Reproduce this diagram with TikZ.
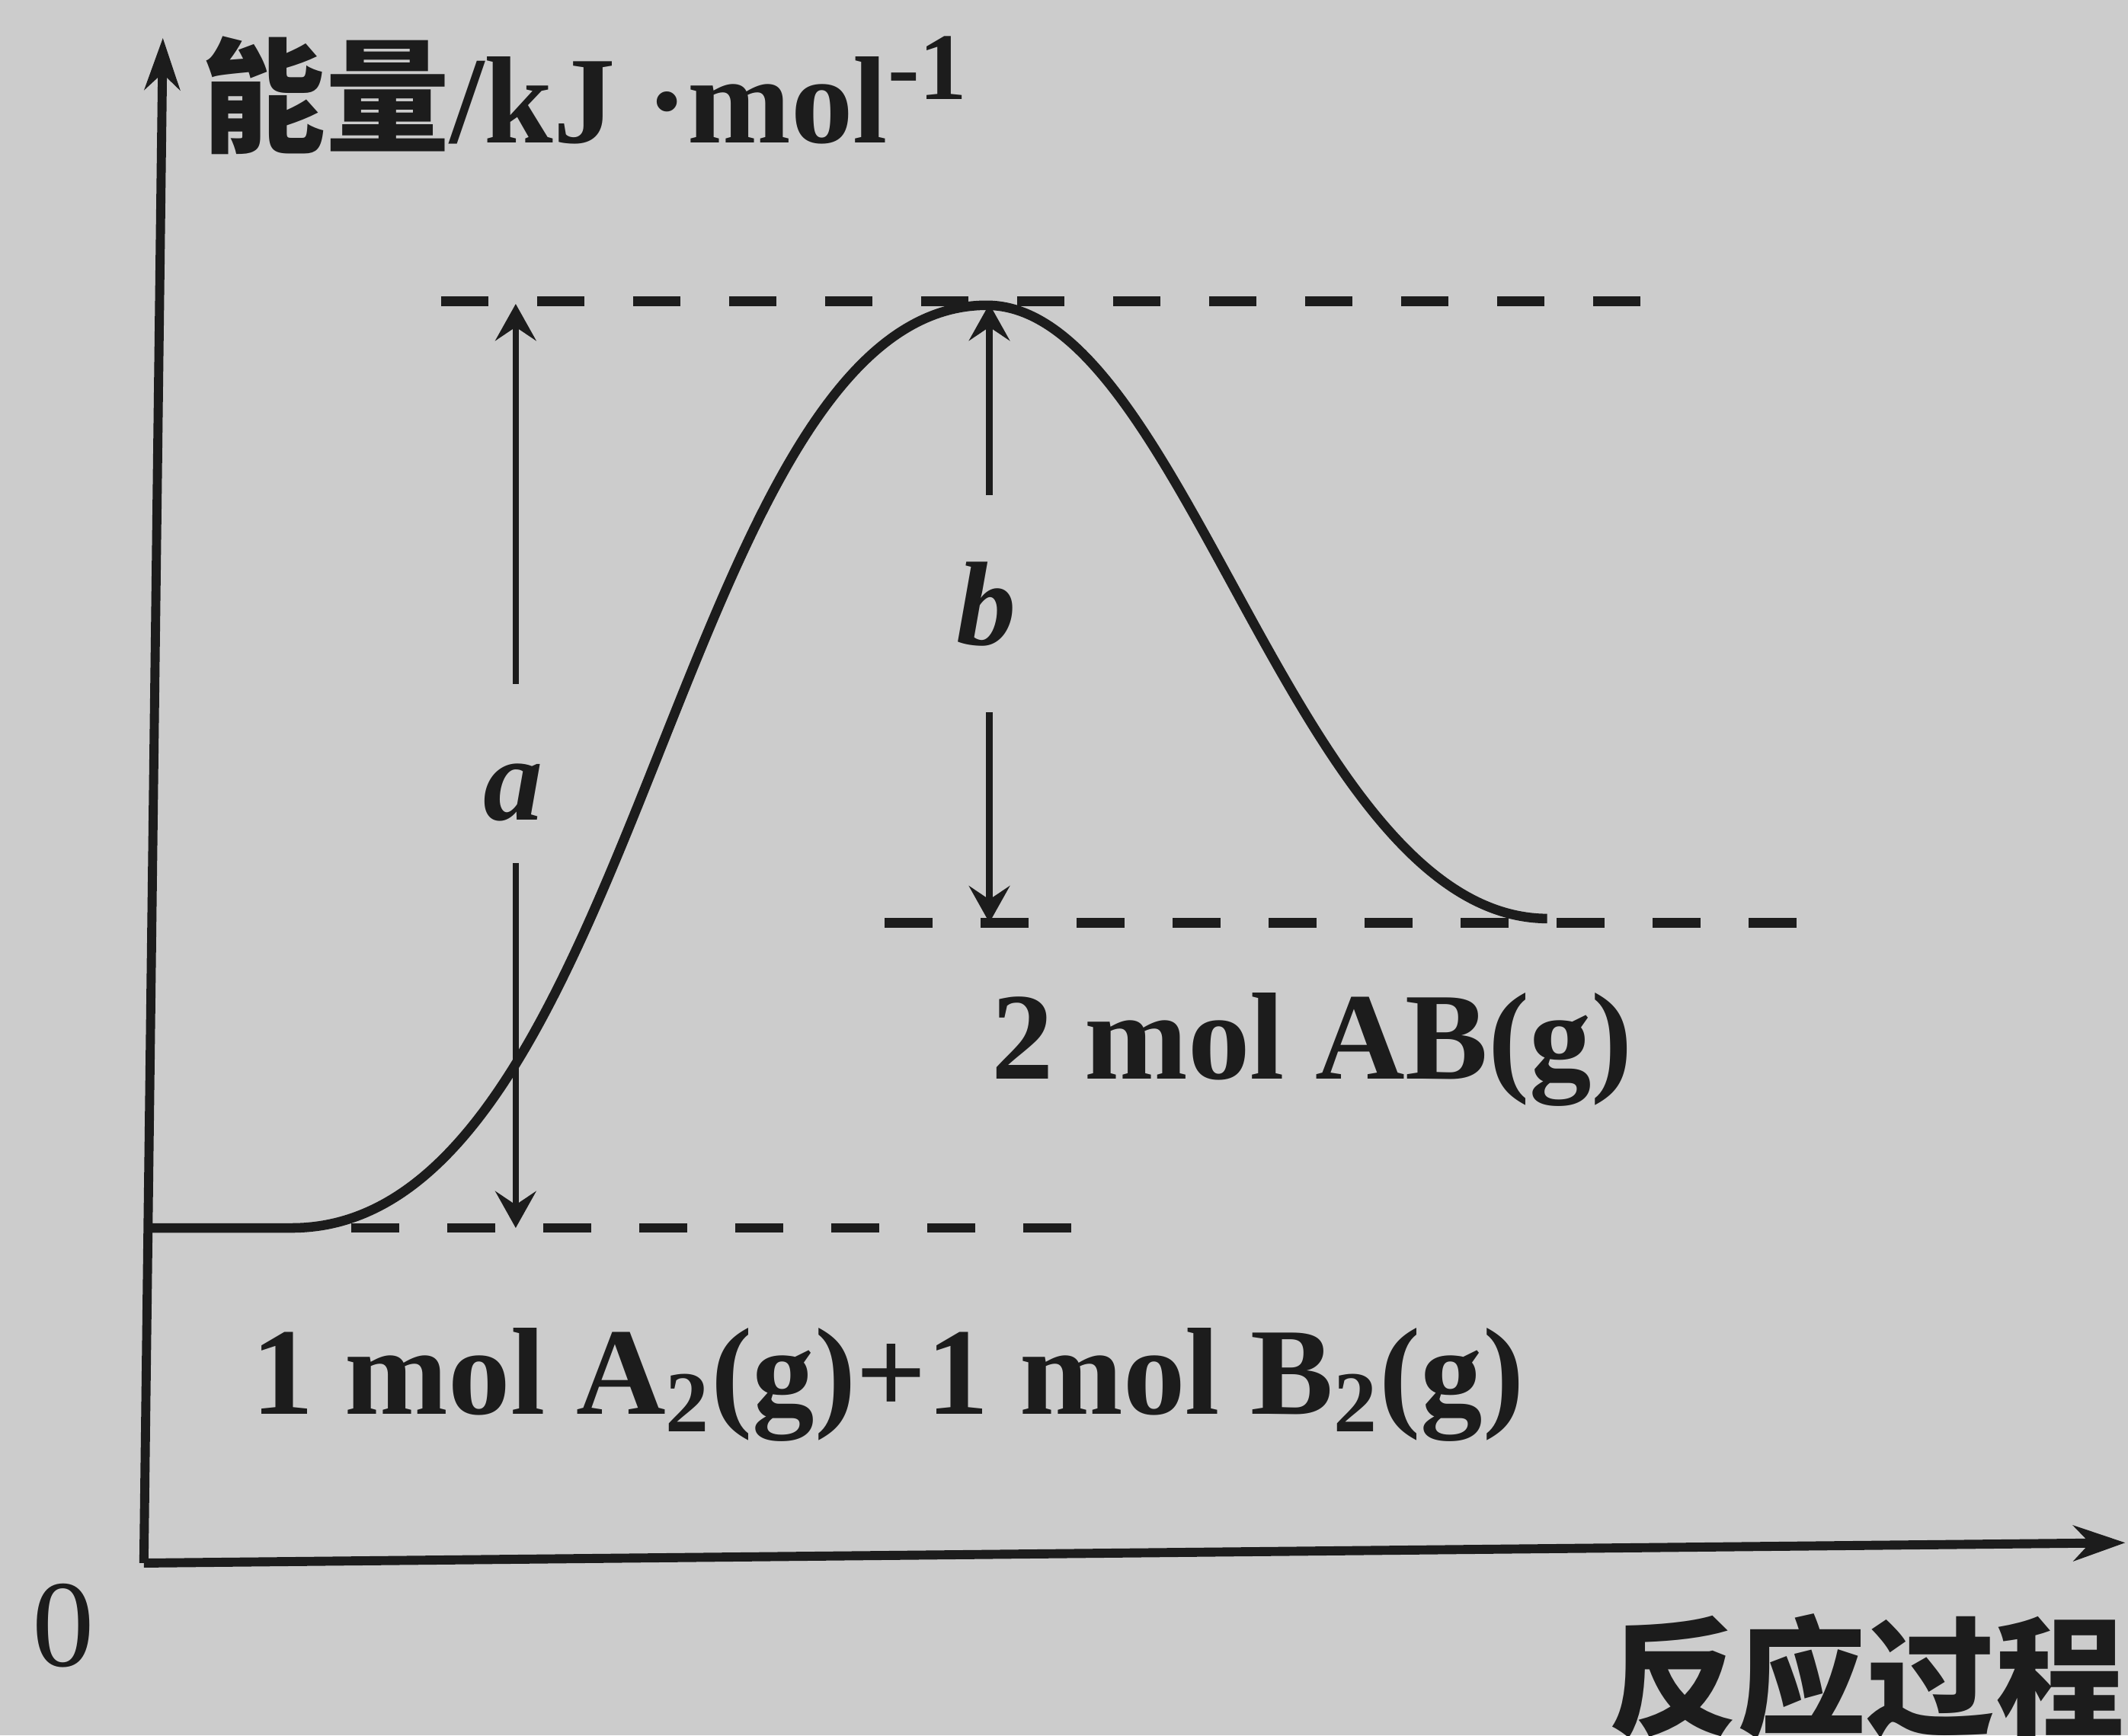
\documentclass[tikz,border=0pt]{standalone}
\usepackage{fontspec}
\setmainfont{Liberation Serif}
\newfontfamily\cjk{Noto Sans CJK SC}
\usetikzlibrary{arrows.meta,positioning,calc}
\definecolor{chem@ink}{RGB}{28,28,28}
\definecolor{chem@paper}{RGB}{204,204,204}
\tikzset{
  chem/.style={
    x=0.01cm, y=-0.01cm,
    every node/.style={text=chem@ink, inner sep=0pt}
  },
  axis/.style={draw=chem@ink, line width=1.9pt,
    -{Stealth[length=0.38cm,width=0.26cm,inset=0.12cm]}},
  profile/.style={draw=chem@ink, line width=2pt, line join=round},
  level/.style={draw=chem@ink, line width=2pt, dash pattern=on 0.35cm off 0.357cm},
  gaparrow/.style={draw=chem@ink, line width=1.3pt,
    -{Stealth[length=0.27cm,width=0.3cm,inset=0.1cm]}},
  species/.style={font=\fontsize{26}{30}\selectfont\bfseries},
  gaplabel/.style={font=\fontsize{25}{28}\selectfont\bfseries\itshape},
  axislabel/.style={font=\fontsize{26}{30}\selectfont\bfseries}
}

\begin{document}
\begin{tikzpicture}[chem]
\path[use as bounding box, fill=chem@paper] (0,0) rectangle (1568,1279);

% axes
\coordinate (O)    at (106,1152);
\coordinate (yTip) at (120,28);
\coordinate (xTip) at (1566,1137);
\draw[axis] (O) -- (yTip);
\draw[axis] (O) -- (xTip);
\node[font=\fontsize{26}{30}\selectfont] (zero) at (47,1198) {0};
\node[axislabel, anchor=base west] (ylab) at (148,105)
  {{\cjk 能量}/kJ ·mol\textsuperscript{\fontsize{20}{20}\selectfont -1}};
\node[anchor=base east, font=\cjk\fontsize{27}{30}\selectfont\bfseries] (xlab) at (1566,1272) {反应过程};

% energy levels
\coordinate (peakL) at (325,222);
\coordinate (peakR) at (1212,222);
\coordinate (prodL) at (652,680);
\coordinate (prodR) at (1330,680);
\coordinate (reacL) at (259,905);
\coordinate (reacR) at (800,905);
\draw[level] (peakL) -- (peakR);
\draw[level] (prodL) -- (prodR);
\draw[level] (reacL) -- (reacR);

% reaction profile
\draw[profile] (107,905) -- (215,905)
  .. controls (470,905) and (500,225) .. (727,225)
  .. controls (873,225) and (955,676) .. (1140,677);

% activation energies
\coordinate (aTop) at (380,224);
\coordinate (aBot) at (380,905);
\node[gaplabel] (lbla) at (378,584) {a};
\draw[gaparrow] ($(lbla)+(2,-80)$) -- (aTop);
\draw[gaparrow] ($(lbla)+(2,52)$) -- (aBot);

\coordinate (bTop) at (729,224);
\coordinate (bBot) at (729,680);
\node[gaplabel] (lblb) at (727,445) {b};
\draw[gaparrow] ($(lblb)+(2,-80)$) -- (bTop);
\draw[gaparrow] ($(lblb)+(2,80)$) -- (bBot);

% species
\node[species, anchor=base west] (prod) at (730,795) {2 mol AB(g)};
\node[species, anchor=base west] (reac) at (185,1042)
  {1 mol A\textsubscript{2}(g)+1 mol B\textsubscript{2}(g)};
\end{tikzpicture}
\end{document}
